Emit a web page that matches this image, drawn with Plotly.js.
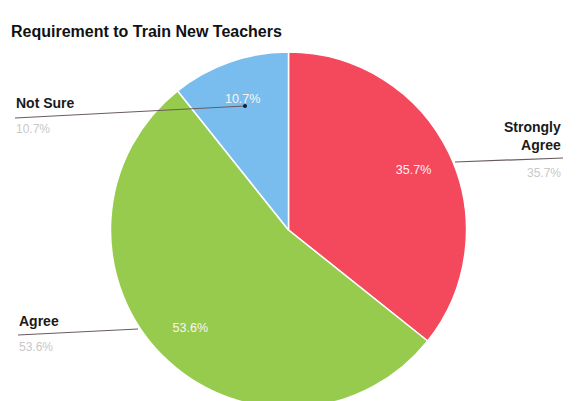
<!DOCTYPE html>
<html>
<head>
<meta charset="utf-8">
<script src="https://cdn.plot.ly/plotly-3.0.1.min.js"></script>
<style>
html,body{margin:0;padding:0;background:#fff;overflow:hidden;}
#chart{width:577px;height:408px;}
</style>
</head>
<body>
<div id="chart"></div>
<script>
const categories = ["Strongly Agree", "Agree", "Not Sure"];
const labelLines = ["Strongly<br>Agree", "Agree", "Not Sure"];
const counts = [10, 15, 3];
const colors = ["#f4485d", "#97cb4e", "#79bdee"];

const W = 577, H = 408;
const px = x => x / W;
const py = y => 1 - y / H;

const total = counts.reduce((a, b) => a + b, 0);
const pct = counts.map(v => (100 * v / total).toFixed(1) + "%");

const pieDomain = {x: [px(110), px(467)], y: [0, py(52)]};

const trace = {
  type: "pie",
  labels: categories,
  values: counts,
  sort: false,
  direction: "clockwise",
  rotation: 0,
  marker: {colors: colors, line: {color: "#ffffff", width: 1.5}},
  textinfo: "none",
  hoverinfo: "none",
  domain: pieDomain,
  showlegend: false
};

// transparent ring used only to place the percentage text further out
const textTrace = {
  type: "pie",
  labels: categories,
  values: counts,
  sort: false,
  direction: "clockwise",
  rotation: 0,
  hole: 0.56,
  marker: {colors: ["rgba(0,0,0,0)", "rgba(0,0,0,0)", "rgba(0,0,0,0)"], line: {width: 0}},
  texttemplate: "%{percent:.1%}",
  textposition: "inside",
  insidetextorientation: "horizontal",
  insidetextfont: {color: "#fdf3f3", size: 12.5, family: "Liberation Sans, Arial, sans-serif"},
  hoverinfo: "none",
  domain: pieDomain,
  showlegend: false
};

// label placement (page pixels)
const lab = [
  {x: 563, y: 136, pY: 173, anchor: "right", line: [455, 162, 563, 158]},
  {x: 17, y: 321, pY: 347, anchor: "left", line: [18, 335, 138, 329]},
  {x: 14, y: 103, pY: 129, anchor: "left", line: [15, 118, 245, 106]}
];

const annotations = [];
const shapes = [];
lab.forEach((l, i) => {
  annotations.push({
    xref: "paper", yref: "paper", x: px(l.x), y: py(l.y),
    xanchor: l.anchor, yanchor: "middle", align: l.anchor,
    text: labelLines[i], showarrow: false,
    font: {family: "Liberation Sans, Arial, sans-serif", size: 14, color: "#1a1a1a", weight: "bold"}
  });
  annotations.push({
    xref: "paper", yref: "paper", x: px(l.x), y: py(l.pY),
    xanchor: l.anchor, yanchor: "middle",
    text: pct[i], showarrow: false,
    font: {family: "Liberation Sans, Arial, sans-serif", size: 12, color: "#c8c8c8"}
  });
  shapes.push({
    type: "line", xref: "paper", yref: "paper",
    x0: px(l.line[0]), y0: py(l.line[1]), x1: px(l.line[2]), y1: py(l.line[3]),
    line: {color: "#6a5a5e", width: 1.2}
  });
});
// end dot for Not Sure leader
shapes.push({
  type: "circle", xref: "paper", yref: "paper",
  x0: px(243), y0: py(104), x1: px(247), y1: py(108),
  fillcolor: "#1a1a2a", line: {width: 0}
});

const layout = {
  width: W, height: H,
  margin: {l: 0, r: 0, t: 0, b: 0},
  paper_bgcolor: "#ffffff",
  title: {
    text: "<b>Requirement to Train New Teachers</b>",
    x: px(11), xanchor: "left", y: py(31), yanchor: "middle",
    font: {family: "Liberation Sans, Arial, sans-serif", size: 16, color: "#111"}
  },
  annotations: annotations,
  shapes: shapes
};

Plotly.newPlot("chart", [trace, textTrace], layout, {displayModeBar: false, staticPlot: true});
</script>
</body>
</html>
